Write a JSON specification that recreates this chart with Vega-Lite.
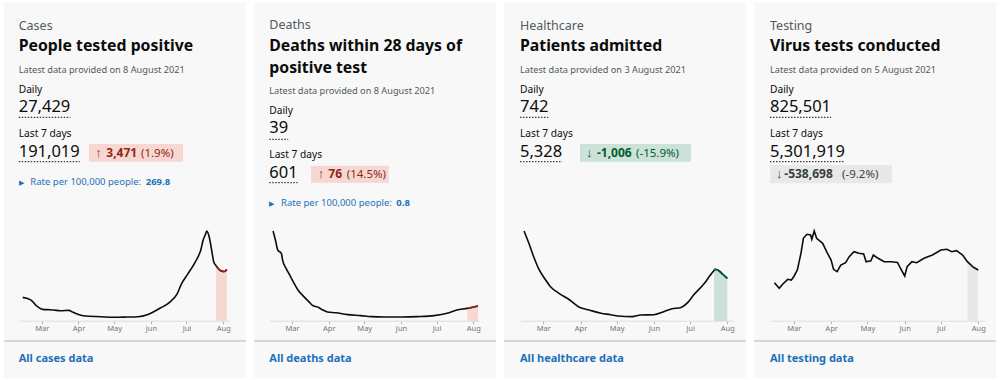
{
  "$schema": "https://vega.github.io/schema/vega-lite/v6.json",
  "background": "white",
  "padding": {"left": 3, "top": 2, "right": 5, "bottom": 2},
  "bounds": "flush",
  "spacing": 8,
  "config": {
    "view": {"fill": "#f8f8f8", "stroke": null},
    "font": "Noto Sans",
    "text": {"font": "Noto Sans", "align": "left", "baseline": "alphabetic"},
    "axis": {"labelFont": "Noto Sans"}
  },
  "datasets": {
    "texts": [
      {"card": "Cases", "role": "category", "text": "Cases", "line": 0, "col": 0},
      {"card": "Cases", "role": "headline", "text": "People tested positive", "line": 1, "col": 0},
      {"card": "Cases", "role": "updated", "text": "Latest data provided on 8 August 2021", "line": 3, "col": 0},
      {"card": "Cases", "role": "label", "text": "Daily", "line": 4, "col": 0},
      {"card": "Cases", "role": "value", "text": "27,429", "line": 5, "col": 0},
      {"card": "Cases", "role": "underline", "line": 6, "col": 0, "col2": 1},
      {"card": "Cases", "role": "label", "text": "Last 7 days", "line": 7, "col": 0},
      {"card": "Cases", "role": "value", "text": "191,019", "line": 8, "col": 0},
      {"card": "Cases", "role": "underline", "line": 9, "col": 0, "col2": 2},
      {"card": "Cases", "role": "box", "line": 10, "line2": 11, "col": 3, "col2": 7},
      {"card": "Cases", "role": "arrow", "text": "↑", "line": 12, "col": 4},
      {"card": "Cases", "role": "change", "text": "3,471", "line": 12, "col": 5},
      {"card": "Cases", "role": "changePct", "text": "(1.9%)", "line": 12, "col": 6},
      {"card": "Cases", "role": "toggle", "text": "▶", "line": 13, "col": 0},
      {"card": "Cases", "role": "rateLabel", "text": "Rate per 100,000 people:", "line": 13, "col": 8},
      {"card": "Cases", "role": "rateValue", "text": "269.8", "line": 13, "col": 9},
      {"card": "Cases", "role": "separator", "line": 14, "col": -1, "col2": 10},
      {"card": "Cases", "role": "link", "text": "All cases data", "line": 15, "col": 0},

      {"card": "Deaths", "role": "category", "text": "Deaths", "line": 0, "col": 0},
      {"card": "Deaths", "role": "headline", "text": "Deaths within 28 days of", "line": 1, "col": 0},
      {"card": "Deaths", "role": "headline", "text": "positive test", "line": 2, "col": 0},
      {"card": "Deaths", "role": "updated", "text": "Latest data provided on 8 August 2021", "line": 3, "col": 0},
      {"card": "Deaths", "role": "label", "text": "Daily", "line": 4, "col": 0},
      {"card": "Deaths", "role": "value", "text": "39", "line": 5, "col": 0},
      {"card": "Deaths", "role": "underline", "line": 6, "col": 0, "col2": 1},
      {"card": "Deaths", "role": "label", "text": "Last 7 days", "line": 7, "col": 0},
      {"card": "Deaths", "role": "value", "text": "601", "line": 8, "col": 0},
      {"card": "Deaths", "role": "underline", "line": 9, "col": 0, "col2": 2},
      {"card": "Deaths", "role": "box", "line": 10, "line2": 11, "col": 3, "col2": 7},
      {"card": "Deaths", "role": "arrow", "text": "↑", "line": 12, "col": 4},
      {"card": "Deaths", "role": "change", "text": "76", "line": 12, "col": 5},
      {"card": "Deaths", "role": "changePct", "text": "(14.5%)", "line": 12, "col": 6},
      {"card": "Deaths", "role": "toggle", "text": "▶", "line": 13, "col": 0},
      {"card": "Deaths", "role": "rateLabel", "text": "Rate per 100,000 people:", "line": 13, "col": 8},
      {"card": "Deaths", "role": "rateValue", "text": "0.8", "line": 13, "col": 9},
      {"card": "Deaths", "role": "separator", "line": 14, "col": -1, "col2": 10},
      {"card": "Deaths", "role": "link", "text": "All deaths data", "line": 15, "col": 0},

      {"card": "Healthcare", "role": "category", "text": "Healthcare", "line": 0, "col": 0},
      {"card": "Healthcare", "role": "headline", "text": "Patients admitted", "line": 1, "col": 0},
      {"card": "Healthcare", "role": "updated", "text": "Latest data provided on 3 August 2021", "line": 3, "col": 0},
      {"card": "Healthcare", "role": "label", "text": "Daily", "line": 4, "col": 0},
      {"card": "Healthcare", "role": "value", "text": "742", "line": 5, "col": 0},
      {"card": "Healthcare", "role": "underline", "line": 6, "col": 0, "col2": 1},
      {"card": "Healthcare", "role": "label", "text": "Last 7 days", "line": 7, "col": 0},
      {"card": "Healthcare", "role": "value", "text": "5,328", "line": 8, "col": 0},
      {"card": "Healthcare", "role": "underline", "line": 9, "col": 0, "col2": 2},
      {"card": "Healthcare", "role": "box", "line": 10, "line2": 11, "col": 3, "col2": 7},
      {"card": "Healthcare", "role": "arrow", "text": "↓", "line": 12, "col": 4},
      {"card": "Healthcare", "role": "change", "text": "-1,006", "line": 12, "col": 5},
      {"card": "Healthcare", "role": "changePct", "text": "(-15.9%)", "line": 12, "col": 6},
      {"card": "Healthcare", "role": "separator", "line": 14, "col": -1, "col2": 10},
      {"card": "Healthcare", "role": "link", "text": "All healthcare data", "line": 15, "col": 0},

      {"card": "Testing", "role": "category", "text": "Testing", "line": 0, "col": 0},
      {"card": "Testing", "role": "headline", "text": "Virus tests conducted", "line": 1, "col": 0},
      {"card": "Testing", "role": "updated", "text": "Latest data provided on 5 August 2021", "line": 3, "col": 0},
      {"card": "Testing", "role": "label", "text": "Daily", "line": 4, "col": 0},
      {"card": "Testing", "role": "value", "text": "825,501", "line": 5, "col": 0},
      {"card": "Testing", "role": "underline", "line": 6, "col": 0, "col2": 1},
      {"card": "Testing", "role": "label", "text": "Last 7 days", "line": 7, "col": 0},
      {"card": "Testing", "role": "value", "text": "5,301,919", "line": 8, "col": 0},
      {"card": "Testing", "role": "underline", "line": 9, "col": 0, "col2": 2},
      {"card": "Testing", "role": "box", "line": 10, "line2": 11, "col": 3, "col2": 7},
      {"card": "Testing", "role": "arrow", "text": "↓", "line": 12, "col": 4},
      {"card": "Testing", "role": "change", "text": "-538,698", "line": 12, "col": 5},
      {"card": "Testing", "role": "changePct", "text": "(-9.2%)", "line": 12, "col": 6},
      {"card": "Testing", "role": "separator", "line": 14, "col": -1, "col2": 10},
      {"card": "Testing", "role": "link", "text": "All testing data", "line": 15, "col": 0}
    ],
    "series": [
      {"card": "Cases", "date": "2021-02-13", "value": 12250},
      {"card": "Cases", "date": "2021-02-20", "value": 10850},
      {"card": "Cases", "date": "2021-02-24", "value": 8230},
      {"card": "Cases", "date": "2021-03-02", "value": 5970},
      {"card": "Cases", "date": "2021-03-06", "value": 5800},
      {"card": "Cases", "date": "2021-03-11", "value": 5600},
      {"card": "Cases", "date": "2021-03-17", "value": 5240},
      {"card": "Cases", "date": "2021-03-24", "value": 5450},
      {"card": "Cases", "date": "2021-03-27", "value": 4560},
      {"card": "Cases", "date": "2021-03-31", "value": 3510},
      {"card": "Cases", "date": "2021-04-05", "value": 2620},
      {"card": "Cases", "date": "2021-04-20", "value": 2100},
      {"card": "Cases", "date": "2021-05-01", "value": 1780},
      {"card": "Cases", "date": "2021-05-12", "value": 1940},
      {"card": "Cases", "date": "2021-05-21", "value": 2100},
      {"card": "Cases", "date": "2021-05-29", "value": 3140},
      {"card": "Cases", "date": "2021-06-03", "value": 4560},
      {"card": "Cases", "date": "2021-06-09", "value": 6650},
      {"card": "Cases", "date": "2021-06-17", "value": 9800},
      {"card": "Cases", "date": "2021-06-23", "value": 13990},
      {"card": "Cases", "date": "2021-06-27", "value": 19600},
      {"card": "Cases", "date": "2021-07-02", "value": 24470},
      {"card": "Cases", "date": "2021-07-06", "value": 28300},
      {"card": "Cases", "date": "2021-07-10", "value": 32700},
      {"card": "Cases", "date": "2021-07-13", "value": 37050},
      {"card": "Cases", "date": "2021-07-15", "value": 42290},
      {"card": "Cases", "date": "2021-07-17", "value": 45430},
      {"card": "Cases", "date": "2021-07-18", "value": 47160},
      {"card": "Cases", "date": "2021-07-20", "value": 44380},
      {"card": "Cases", "date": "2021-07-22", "value": 37940},
      {"card": "Cases", "date": "2021-07-24", "value": 30920},
      {"card": "Cases", "date": "2021-07-26", "value": 28900},
      {"card": "Cases", "date": "2021-07-27", "value": 27980},
      {"card": "Cases", "date": "2021-07-30", "value": 26200},
      {"card": "Cases", "date": "2021-08-02", "value": 25890},
      {"card": "Cases", "date": "2021-08-04", "value": 26930},

      {"card": "Deaths", "date": "2021-02-13", "value": 520},
      {"card": "Deaths", "date": "2021-02-15", "value": 468},
      {"card": "Deaths", "date": "2021-02-17", "value": 410},
      {"card": "Deaths", "date": "2021-02-20", "value": 391},
      {"card": "Deaths", "date": "2021-02-21", "value": 353},
      {"card": "Deaths", "date": "2021-02-24", "value": 304},
      {"card": "Deaths", "date": "2021-02-27", "value": 266},
      {"card": "Deaths", "date": "2021-03-02", "value": 227},
      {"card": "Deaths", "date": "2021-03-06", "value": 179},
      {"card": "Deaths", "date": "2021-03-11", "value": 141},
      {"card": "Deaths", "date": "2021-03-16", "value": 106},
      {"card": "Deaths", "date": "2021-03-18", "value": 92},
      {"card": "Deaths", "date": "2021-03-23", "value": 79},
      {"card": "Deaths", "date": "2021-03-27", "value": 64},
      {"card": "Deaths", "date": "2021-03-31", "value": 52},
      {"card": "Deaths", "date": "2021-04-07", "value": 48},
      {"card": "Deaths", "date": "2021-04-17", "value": 37},
      {"card": "Deaths", "date": "2021-04-28", "value": 31},
      {"card": "Deaths", "date": "2021-05-07", "value": 25},
      {"card": "Deaths", "date": "2021-05-18", "value": 23},
      {"card": "Deaths", "date": "2021-06-01", "value": 23},
      {"card": "Deaths", "date": "2021-06-15", "value": 25},
      {"card": "Deaths", "date": "2021-06-29", "value": 31},
      {"card": "Deaths", "date": "2021-07-10", "value": 45},
      {"card": "Deaths", "date": "2021-07-18", "value": 64},
      {"card": "Deaths", "date": "2021-07-27", "value": 73},
      {"card": "Deaths", "date": "2021-08-05", "value": 87},

      {"card": "Healthcare", "date": "2021-02-13", "value": 1602},
      {"card": "Healthcare", "date": "2021-02-17", "value": 1383},
      {"card": "Healthcare", "date": "2021-02-21", "value": 1145},
      {"card": "Healthcare", "date": "2021-02-25", "value": 938},
      {"card": "Healthcare", "date": "2021-03-02", "value": 760},
      {"card": "Healthcare", "date": "2021-03-07", "value": 611},
      {"card": "Healthcare", "date": "2021-03-14", "value": 493},
      {"card": "Healthcare", "date": "2021-03-23", "value": 374},
      {"card": "Healthcare", "date": "2021-03-31", "value": 244},
      {"card": "Healthcare", "date": "2021-04-08", "value": 196},
      {"card": "Healthcare", "date": "2021-04-18", "value": 137},
      {"card": "Healthcare", "date": "2021-04-26", "value": 112},
      {"card": "Healthcare", "date": "2021-05-02", "value": 89},
      {"card": "Healthcare", "date": "2021-05-14", "value": 77},
      {"card": "Healthcare", "date": "2021-05-21", "value": 107},
      {"card": "Healthcare", "date": "2021-06-01", "value": 112},
      {"card": "Healthcare", "date": "2021-06-09", "value": 166},
      {"card": "Healthcare", "date": "2021-06-16", "value": 219},
      {"card": "Healthcare", "date": "2021-06-23", "value": 237},
      {"card": "Healthcare", "date": "2021-06-29", "value": 326},
      {"card": "Healthcare", "date": "2021-07-04", "value": 463},
      {"card": "Healthcare", "date": "2021-07-13", "value": 671},
      {"card": "Healthcare", "date": "2021-07-18", "value": 819},
      {"card": "Healthcare", "date": "2021-07-21", "value": 900},
      {"card": "Healthcare", "date": "2021-07-22", "value": 920},
      {"card": "Healthcare", "date": "2021-07-25", "value": 895},
      {"card": "Healthcare", "date": "2021-07-28", "value": 837},
      {"card": "Healthcare", "date": "2021-08-01", "value": 760},

      {"card": "Testing", "date": "2021-02-13", "value": 568800},
      {"card": "Testing", "date": "2021-02-17", "value": 485600},
      {"card": "Testing", "date": "2021-02-20", "value": 549500},
      {"card": "Testing", "date": "2021-02-24", "value": 619200},
      {"card": "Testing", "date": "2021-02-27", "value": 608900},
      {"card": "Testing", "date": "2021-03-01", "value": 657900},
      {"card": "Testing", "date": "2021-03-04", "value": 757400},
      {"card": "Testing", "date": "2021-03-07", "value": 1005300},
      {"card": "Testing", "date": "2021-03-09", "value": 1228100},
      {"card": "Testing", "date": "2021-03-12", "value": 1287500},
      {"card": "Testing", "date": "2021-03-15", "value": 1277100},
      {"card": "Testing", "date": "2021-03-16", "value": 1213200},
      {"card": "Testing", "date": "2021-03-18", "value": 1336500},
      {"card": "Testing", "date": "2021-03-20", "value": 1228100},
      {"card": "Testing", "date": "2021-03-25", "value": 1153800},
      {"card": "Testing", "date": "2021-03-29", "value": 1005300},
      {"card": "Testing", "date": "2021-04-01", "value": 905900},
      {"card": "Testing", "date": "2021-04-03", "value": 767700},
      {"card": "Testing", "date": "2021-04-06", "value": 732100},
      {"card": "Testing", "date": "2021-04-09", "value": 831600},
      {"card": "Testing", "date": "2021-04-13", "value": 865800},
      {"card": "Testing", "date": "2021-04-16", "value": 954800},
      {"card": "Testing", "date": "2021-04-20", "value": 1029100},
      {"card": "Testing", "date": "2021-04-24", "value": 1005300},
      {"card": "Testing", "date": "2021-04-28", "value": 995000},
      {"card": "Testing", "date": "2021-04-30", "value": 880600},
      {"card": "Testing", "date": "2021-05-04", "value": 895500},
      {"card": "Testing", "date": "2021-05-06", "value": 980100},
      {"card": "Testing", "date": "2021-05-10", "value": 931100},
      {"card": "Testing", "date": "2021-05-15", "value": 880600},
      {"card": "Testing", "date": "2021-05-21", "value": 880600},
      {"card": "Testing", "date": "2021-05-26", "value": 870000},
      {"card": "Testing", "date": "2021-05-29", "value": 767700},
      {"card": "Testing", "date": "2021-06-01", "value": 668300},
      {"card": "Testing", "date": "2021-06-03", "value": 806400},
      {"card": "Testing", "date": "2021-06-07", "value": 880600},
      {"card": "Testing", "date": "2021-06-11", "value": 865800},
      {"card": "Testing", "date": "2021-06-17", "value": 931100},
      {"card": "Testing", "date": "2021-06-24", "value": 980100},
      {"card": "Testing", "date": "2021-07-01", "value": 1054400},
      {"card": "Testing", "date": "2021-07-06", "value": 1064700},
      {"card": "Testing", "date": "2021-07-10", "value": 1029100},
      {"card": "Testing", "date": "2021-07-14", "value": 1044000},
      {"card": "Testing", "date": "2021-07-19", "value": 980100},
      {"card": "Testing", "date": "2021-07-23", "value": 880600},
      {"card": "Testing", "date": "2021-07-28", "value": 797400},
      {"card": "Testing", "date": "2021-08-01", "value": 757400}
    ]
  },
  "hconcat": [
    {
      "width": 242, "height": 376,
      "resolve": {"scale": {"x": "independent", "y": "independent"}, "axis": {"x": "independent", "y": "independent"}},
      "layer": [
        {
          "data": {"name": "texts"},
          "transform": [{"filter": {"field": "card", "equal": "Cases"}}],
          "encoding": {
            "x": {"field": "col", "type": "quantitative", "axis": null, "scale": {"domain": [-1, 0, 1, 2, 3, 4, 5, 6, 7, 8, 9, 10], "range": [0, 14.7, 66.4, 75.8, 85, 91.3, 102.3, 137, 179, 26.3, 141.7, 242], "zero": false, "nice": false}},
            "y": {"field": "line", "type": "quantitative", "axis": null, "scale": {"domain": [0, 1, 2, 3, 4, 5, 6, 7, 8, 9, 10, 11, 12, 13, 14, 15], "range": [28, 49, 49, 70.7, 90.7, 110.3, 115.3, 134.7, 154.7, 159.7, 142, 159.7, 154.7, 183.2, 339, 359.5], "zero": false, "nice": false}}
          },
          "layer": [
            {"transform": [{"filter": {"field": "role", "equal": "box"}}], "mark": {"type": "rect", "color": "#f6d7d2"}, "encoding": {"x2": {"field": "col2"}, "y2": {"field": "line2"}}},
            {"transform": [{"filter": {"field": "role", "equal": "underline"}}], "mark": {"type": "rule", "color": "#0b0c0c", "strokeDash": [1.5, 1.5], "strokeWidth": 1}, "encoding": {"x2": {"field": "col2"}}},
            {"transform": [{"filter": {"field": "role", "equal": "separator"}}], "mark": {"type": "rule", "color": "#b1b4b6", "strokeWidth": 1}, "encoding": {"x2": {"field": "col2"}}},
            {"transform": [{"filter": {"field": "role", "equal": "category"}}], "mark": {"type": "text", "fontSize": 12.5, "color": "#505a5f"}, "encoding": {"text": {"field": "text"}}},
            {"transform": [{"filter": {"field": "role", "equal": "headline"}}], "mark": {"type": "text", "fontSize": 15.8, "fontWeight": "bold", "color": "#0b0c0c"}, "encoding": {"text": {"field": "text"}}},
            {"transform": [{"filter": {"field": "role", "equal": "updated"}}], "mark": {"type": "text", "fontSize": 9.2, "color": "#505a5f"}, "encoding": {"text": {"field": "text"}}},
            {"transform": [{"filter": {"field": "role", "equal": "label"}}], "mark": {"type": "text", "fontSize": 10.2, "color": "#0b0c0c"}, "encoding": {"text": {"field": "text"}}},
            {"transform": [{"filter": {"field": "role", "equal": "value"}}], "mark": {"type": "text", "fontSize": 16.5, "color": "#0b0c0c"}, "encoding": {"text": {"field": "text"}}},
            {"transform": [{"filter": {"field": "role", "equal": "arrow"}}], "mark": {"type": "text", "font": "Liberation Sans", "fontSize": 13, "fontWeight": "bold", "color": "#942514"}, "encoding": {"text": {"field": "text"}}},
            {"transform": [{"filter": {"field": "role", "equal": "change"}}], "mark": {"type": "text", "fontSize": 12, "fontWeight": "bold", "color": "#942514"}, "encoding": {"text": {"field": "text"}}},
            {"transform": [{"filter": {"field": "role", "equal": "changePct"}}], "mark": {"type": "text", "fontSize": 11.5, "color": "#942514"}, "encoding": {"text": {"field": "text"}}},
            {"transform": [{"filter": {"field": "role", "equal": "toggle"}}], "mark": {"type": "text", "fontSize": 7, "color": "#1d70b8"}, "encoding": {"text": {"field": "text"}}},
            {"transform": [{"filter": {"field": "role", "equal": "rateLabel"}}], "mark": {"type": "text", "fontSize": 9.5, "color": "#1d70b8"}, "encoding": {"text": {"field": "text"}}},
            {"transform": [{"filter": {"field": "role", "equal": "rateValue"}}], "mark": {"type": "text", "fontSize": 9.5, "fontWeight": "bold", "color": "#1d70b8"}, "encoding": {"text": {"field": "text"}}},
            {"transform": [{"filter": {"field": "role", "equal": "link"}}], "mark": {"type": "text", "fontSize": 11, "fontWeight": "bold", "color": "#1d70b8"}, "encoding": {"text": {"field": "text"}}}
          ]
        },
        {
          "data": {"name": "series"},
          "transform": [{"filter": {"field": "card", "equal": "Cases"}}],
          "encoding": {
            "x": {"field": "date", "type": "temporal", "scale": {"domain": [{"year": 2021, "month": 2, "date": 10, "utc": true}, {"year": 2021, "month": 8, "date": 6, "utc": true}], "range": [15.15, 225.2]},
                  "axis": {"format": "%b", "tickCount": {"interval": "month", "step": 1}, "labelFontSize": 7.5, "labelColor": "#6f777b", "domainColor": "#dcdcdc", "tickColor": "#b1b4b6", "tickSize": 3, "labelPadding": 1, "grid": false, "title": null, "offset": -57.3, "labelFlush": false}},
            "y": {"field": "value", "type": "quantitative", "axis": null, "scale": {"domain": [0, 47160], "range": [318.7, 229], "nice": false, "zero": true}}
          },
          "layer": [
            {"transform": [{"filter": {"field": "date", "gte": {"year": 2021, "month": 7, "date": 26, "utc": true}}}], "mark": {"type": "area", "color": "#f6d7d2", "interpolate": "monotone"}},
            {"mark": {"type": "line", "color": "#0b0c0c", "strokeWidth": 1.6, "interpolate": "monotone"}},
            {"transform": [{"filter": {"field": "date", "gte": {"year": 2021, "month": 7, "date": 26, "utc": true}}}], "mark": {"type": "line", "color": "#942514", "strokeWidth": 1.6, "interpolate": "monotone"}}
          ]
        }
      ]
    },
    {
      "width": 242, "height": 376,
      "resolve": {"scale": {"x": "independent", "y": "independent"}, "axis": {"x": "independent", "y": "independent"}},
      "layer": [
        {
          "data": {"name": "texts"},
          "transform": [{"filter": {"field": "card", "equal": "Deaths"}}],
          "encoding": {
            "x": {"field": "col", "type": "quantitative", "axis": null, "scale": {"domain": [-1, 0, 1, 2, 3, 4, 5, 6, 7, 8, 9, 10], "range": [0, 15.3, 34.2, 43.6, 57, 63.7, 74.3, 92.7, 134.7, 27, 142.3, 242], "zero": false, "nice": false}},
            "y": {"field": "line", "type": "quantitative", "axis": null, "scale": {"domain": [0, 1, 2, 3, 4, 5, 6, 7, 8, 9, 10, 11, 12, 13, 14, 15], "range": [27.3, 48.7, 70.5, 92.3, 112.3, 131.3, 137.3, 156.3, 176.3, 180.7, 163.7, 180.7, 176.3, 203.8, 339, 359.5], "zero": false, "nice": false}}
          },
          "layer": [
            {"transform": [{"filter": {"field": "role", "equal": "box"}}], "mark": {"type": "rect", "color": "#f6d7d2"}, "encoding": {"x2": {"field": "col2"}, "y2": {"field": "line2"}}},
            {"transform": [{"filter": {"field": "role", "equal": "underline"}}], "mark": {"type": "rule", "color": "#0b0c0c", "strokeDash": [1.5, 1.5], "strokeWidth": 1}, "encoding": {"x2": {"field": "col2"}}},
            {"transform": [{"filter": {"field": "role", "equal": "separator"}}], "mark": {"type": "rule", "color": "#b1b4b6", "strokeWidth": 1}, "encoding": {"x2": {"field": "col2"}}},
            {"transform": [{"filter": {"field": "role", "equal": "category"}}], "mark": {"type": "text", "fontSize": 12.5, "color": "#505a5f"}, "encoding": {"text": {"field": "text"}}},
            {"transform": [{"filter": {"field": "role", "equal": "headline"}}], "mark": {"type": "text", "fontSize": 15.8, "fontWeight": "bold", "color": "#0b0c0c"}, "encoding": {"text": {"field": "text"}}},
            {"transform": [{"filter": {"field": "role", "equal": "updated"}}], "mark": {"type": "text", "fontSize": 9.2, "color": "#505a5f"}, "encoding": {"text": {"field": "text"}}},
            {"transform": [{"filter": {"field": "role", "equal": "label"}}], "mark": {"type": "text", "fontSize": 10.2, "color": "#0b0c0c"}, "encoding": {"text": {"field": "text"}}},
            {"transform": [{"filter": {"field": "role", "equal": "value"}}], "mark": {"type": "text", "fontSize": 16.5, "color": "#0b0c0c"}, "encoding": {"text": {"field": "text"}}},
            {"transform": [{"filter": {"field": "role", "equal": "arrow"}}], "mark": {"type": "text", "font": "Liberation Sans", "fontSize": 13, "fontWeight": "bold", "color": "#942514"}, "encoding": {"text": {"field": "text"}}},
            {"transform": [{"filter": {"field": "role", "equal": "change"}}], "mark": {"type": "text", "fontSize": 12, "fontWeight": "bold", "color": "#942514"}, "encoding": {"text": {"field": "text"}}},
            {"transform": [{"filter": {"field": "role", "equal": "changePct"}}], "mark": {"type": "text", "fontSize": 11.5, "color": "#942514"}, "encoding": {"text": {"field": "text"}}},
            {"transform": [{"filter": {"field": "role", "equal": "toggle"}}], "mark": {"type": "text", "fontSize": 7, "color": "#1d70b8"}, "encoding": {"text": {"field": "text"}}},
            {"transform": [{"filter": {"field": "role", "equal": "rateLabel"}}], "mark": {"type": "text", "fontSize": 9.5, "color": "#1d70b8"}, "encoding": {"text": {"field": "text"}}},
            {"transform": [{"filter": {"field": "role", "equal": "rateValue"}}], "mark": {"type": "text", "fontSize": 9.5, "fontWeight": "bold", "color": "#1d70b8"}, "encoding": {"text": {"field": "text"}}},
            {"transform": [{"filter": {"field": "role", "equal": "link"}}], "mark": {"type": "text", "fontSize": 11, "fontWeight": "bold", "color": "#1d70b8"}, "encoding": {"text": {"field": "text"}}}
          ]
        },
        {
          "data": {"name": "series"},
          "transform": [{"filter": {"field": "card", "equal": "Deaths"}}],
          "encoding": {
            "x": {"field": "date", "type": "temporal", "scale": {"domain": [{"year": 2021, "month": 2, "date": 10, "utc": true}, {"year": 2021, "month": 8, "date": 6, "utc": true}], "range": [15.5, 225.2]},
                  "axis": {"format": "%b", "tickCount": {"interval": "month", "step": 1}, "labelFontSize": 7.5, "labelColor": "#6f777b", "domainColor": "#dcdcdc", "tickColor": "#b1b4b6", "tickSize": 3, "labelPadding": 1, "grid": false, "title": null, "offset": -57.3, "labelFlush": false}},
            "y": {"field": "value", "type": "quantitative", "axis": null, "scale": {"domain": [0, 520], "range": [319, 229], "nice": false, "zero": true}}
          },
          "layer": [
            {"transform": [{"filter": {"field": "date", "gte": {"year": 2021, "month": 7, "date": 27, "utc": true}}}], "mark": {"type": "area", "color": "#f6d7d2", "interpolate": "monotone"}},
            {"mark": {"type": "line", "color": "#0b0c0c", "strokeWidth": 1.6, "interpolate": "monotone"}},
            {"transform": [{"filter": {"field": "date", "gte": {"year": 2021, "month": 7, "date": 27, "utc": true}}}], "mark": {"type": "line", "color": "#942514", "strokeWidth": 1.6, "interpolate": "monotone"}}
          ]
        }
      ]
    },
    {
      "width": 242, "height": 376,
      "resolve": {"scale": {"x": "independent", "y": "independent"}, "axis": {"x": "independent", "y": "independent"}},
      "layer": [
        {
          "data": {"name": "texts"},
          "transform": [{"filter": {"field": "card", "equal": "Healthcare"}}],
          "encoding": {
            "x": {"field": "col", "type": "quantitative", "axis": null, "scale": {"domain": [-1, 0, 1, 2, 3, 4, 5, 6, 7, 8, 9, 10], "range": [0, 16, 44.3, 58.2, 76, 82, 93, 132, 187, 27, 142, 242], "zero": false, "nice": false}},
            "y": {"field": "line", "type": "quantitative", "axis": null, "scale": {"domain": [0, 1, 2, 3, 4, 5, 6, 7, 8, 9, 10, 11, 12, 13, 14, 15], "range": [28, 49, 49, 70.7, 90.7, 110.3, 115.3, 134.7, 154.7, 159.7, 142, 159.7, 154.7, 183.2, 339, 359.5], "zero": false, "nice": false}}
          },
          "layer": [
            {"transform": [{"filter": {"field": "role", "equal": "box"}}], "mark": {"type": "rect", "color": "#cce2d8"}, "encoding": {"x2": {"field": "col2"}, "y2": {"field": "line2"}}},
            {"transform": [{"filter": {"field": "role", "equal": "underline"}}], "mark": {"type": "rule", "color": "#0b0c0c", "strokeDash": [1.5, 1.5], "strokeWidth": 1}, "encoding": {"x2": {"field": "col2"}}},
            {"transform": [{"filter": {"field": "role", "equal": "separator"}}], "mark": {"type": "rule", "color": "#b1b4b6", "strokeWidth": 1}, "encoding": {"x2": {"field": "col2"}}},
            {"transform": [{"filter": {"field": "role", "equal": "category"}}], "mark": {"type": "text", "fontSize": 12.5, "color": "#505a5f"}, "encoding": {"text": {"field": "text"}}},
            {"transform": [{"filter": {"field": "role", "equal": "headline"}}], "mark": {"type": "text", "fontSize": 15.8, "fontWeight": "bold", "color": "#0b0c0c"}, "encoding": {"text": {"field": "text"}}},
            {"transform": [{"filter": {"field": "role", "equal": "updated"}}], "mark": {"type": "text", "fontSize": 9.2, "color": "#505a5f"}, "encoding": {"text": {"field": "text"}}},
            {"transform": [{"filter": {"field": "role", "equal": "label"}}], "mark": {"type": "text", "fontSize": 10.2, "color": "#0b0c0c"}, "encoding": {"text": {"field": "text"}}},
            {"transform": [{"filter": {"field": "role", "equal": "value"}}], "mark": {"type": "text", "fontSize": 16.5, "color": "#0b0c0c"}, "encoding": {"text": {"field": "text"}}},
            {"transform": [{"filter": {"field": "role", "equal": "arrow"}}], "mark": {"type": "text", "font": "Liberation Sans", "fontSize": 13, "fontWeight": "bold", "color": "#005a30"}, "encoding": {"text": {"field": "text"}}},
            {"transform": [{"filter": {"field": "role", "equal": "change"}}], "mark": {"type": "text", "fontSize": 12, "fontWeight": "bold", "color": "#005a30"}, "encoding": {"text": {"field": "text"}}},
            {"transform": [{"filter": {"field": "role", "equal": "changePct"}}], "mark": {"type": "text", "fontSize": 11.5, "color": "#005a30"}, "encoding": {"text": {"field": "text"}}},
            {"transform": [{"filter": {"field": "role", "equal": "link"}}], "mark": {"type": "text", "fontSize": 11, "fontWeight": "bold", "color": "#1d70b8"}, "encoding": {"text": {"field": "text"}}}
          ]
        },
        {
          "data": {"name": "series"},
          "transform": [{"filter": {"field": "card", "equal": "Healthcare"}}],
          "encoding": {
            "x": {"field": "date", "type": "temporal", "scale": {"domain": [{"year": 2021, "month": 2, "date": 10, "utc": true}, {"year": 2021, "month": 8, "date": 6, "utc": true}], "range": [16.45, 229.3]},
                  "axis": {"format": "%b", "tickCount": {"interval": "month", "step": 1}, "labelFontSize": 7.5, "labelColor": "#6f777b", "domainColor": "#dcdcdc", "tickColor": "#b1b4b6", "tickSize": 3, "labelPadding": 1, "grid": false, "title": null, "offset": -57.3, "labelFlush": false}},
            "y": {"field": "value", "type": "quantitative", "axis": null, "scale": {"domain": [0, 1602], "range": [319, 229], "nice": false, "zero": true}}
          },
          "layer": [
            {"transform": [{"filter": {"field": "date", "gte": {"year": 2021, "month": 7, "date": 21, "utc": true}}}], "mark": {"type": "area", "color": "#cce2d8", "interpolate": "monotone"}},
            {"mark": {"type": "line", "color": "#0b0c0c", "strokeWidth": 1.6, "interpolate": "monotone"}},
            {"transform": [{"filter": {"field": "date", "gte": {"year": 2021, "month": 7, "date": 21, "utc": true}}}], "mark": {"type": "line", "color": "#005a30", "strokeWidth": 1.6, "interpolate": "monotone"}}
          ]
        }
      ]
    },
    {
      "width": 242, "height": 376,
      "resolve": {"scale": {"x": "independent", "y": "independent"}, "axis": {"x": "independent", "y": "independent"}},
      "layer": [
        {
          "data": {"name": "texts"},
          "transform": [{"filter": {"field": "card", "equal": "Testing"}}],
          "encoding": {
            "x": {"field": "col", "type": "quantitative", "axis": null, "scale": {"domain": [-1, 0, 1, 2, 3, 4, 5, 6, 7, 8, 9, 10], "range": [0, 16, 77.1, 91, 16.3, 22, 30.3, 88, 138, 27, 142, 242], "zero": false, "nice": false}},
            "y": {"field": "line", "type": "quantitative", "axis": null, "scale": {"domain": [0, 1, 2, 3, 4, 5, 6, 7, 8, 9, 10, 11, 12, 13, 14, 15], "range": [28, 49, 49, 70.7, 90.7, 110.3, 115.3, 134.7, 154.7, 159.7, 163, 181.3, 175.8, 183.2, 339, 359.5], "zero": false, "nice": false}}
          },
          "layer": [
            {"transform": [{"filter": {"field": "role", "equal": "box"}}], "mark": {"type": "rect", "color": "#e8e8e8"}, "encoding": {"x2": {"field": "col2"}, "y2": {"field": "line2"}}},
            {"transform": [{"filter": {"field": "role", "equal": "underline"}}], "mark": {"type": "rule", "color": "#0b0c0c", "strokeDash": [1.5, 1.5], "strokeWidth": 1}, "encoding": {"x2": {"field": "col2"}}},
            {"transform": [{"filter": {"field": "role", "equal": "separator"}}], "mark": {"type": "rule", "color": "#b1b4b6", "strokeWidth": 1}, "encoding": {"x2": {"field": "col2"}}},
            {"transform": [{"filter": {"field": "role", "equal": "category"}}], "mark": {"type": "text", "fontSize": 12.5, "color": "#505a5f"}, "encoding": {"text": {"field": "text"}}},
            {"transform": [{"filter": {"field": "role", "equal": "headline"}}], "mark": {"type": "text", "fontSize": 15.8, "fontWeight": "bold", "color": "#0b0c0c"}, "encoding": {"text": {"field": "text"}}},
            {"transform": [{"filter": {"field": "role", "equal": "updated"}}], "mark": {"type": "text", "fontSize": 9.2, "color": "#505a5f"}, "encoding": {"text": {"field": "text"}}},
            {"transform": [{"filter": {"field": "role", "equal": "label"}}], "mark": {"type": "text", "fontSize": 10.2, "color": "#0b0c0c"}, "encoding": {"text": {"field": "text"}}},
            {"transform": [{"filter": {"field": "role", "equal": "value"}}], "mark": {"type": "text", "fontSize": 16.5, "color": "#0b0c0c"}, "encoding": {"text": {"field": "text"}}},
            {"transform": [{"filter": {"field": "role", "equal": "arrow"}}], "mark": {"type": "text", "font": "Liberation Sans", "fontSize": 13, "color": "#383f43"}, "encoding": {"text": {"field": "text"}}},
            {"transform": [{"filter": {"field": "role", "equal": "change"}}], "mark": {"type": "text", "fontSize": 12, "fontWeight": "bold", "color": "#383f43"}, "encoding": {"text": {"field": "text"}}},
            {"transform": [{"filter": {"field": "role", "equal": "changePct"}}], "mark": {"type": "text", "fontSize": 11.5, "color": "#383f43"}, "encoding": {"text": {"field": "text"}}},
            {"transform": [{"filter": {"field": "role", "equal": "link"}}], "mark": {"type": "text", "fontSize": 11, "fontWeight": "bold", "color": "#1d70b8"}, "encoding": {"text": {"field": "text"}}}
          ]
        },
        {
          "data": {"name": "series"},
          "transform": [{"filter": {"field": "card", "equal": "Testing"}}],
          "encoding": {
            "x": {"field": "date", "type": "temporal", "scale": {"domain": [{"year": 2021, "month": 2, "date": 10, "utc": true}, {"year": 2021, "month": 8, "date": 6, "utc": true}], "range": [16.8, 230.3]},
                  "axis": {"format": "%b", "tickCount": {"interval": "month", "step": 1}, "labelFontSize": 7.5, "labelColor": "#6f777b", "domainColor": "#dcdcdc", "tickColor": "#b1b4b6", "tickSize": 3, "labelPadding": 1, "grid": false, "title": null, "offset": -57.3, "labelFlush": false}},
            "y": {"field": "value", "type": "quantitative", "axis": null, "scale": {"domain": [0, 1336500], "range": [319, 229], "nice": false, "zero": true}}
          },
          "layer": [
            {"transform": [{"filter": {"field": "date", "gte": {"year": 2021, "month": 7, "date": 23, "utc": true}}}], "mark": {"type": "area", "color": "#e8e8e8"}},
            {"mark": {"type": "line", "color": "#0b0c0c", "strokeWidth": 1.6}}
          ]
        }
      ]
    }
  ]
}
